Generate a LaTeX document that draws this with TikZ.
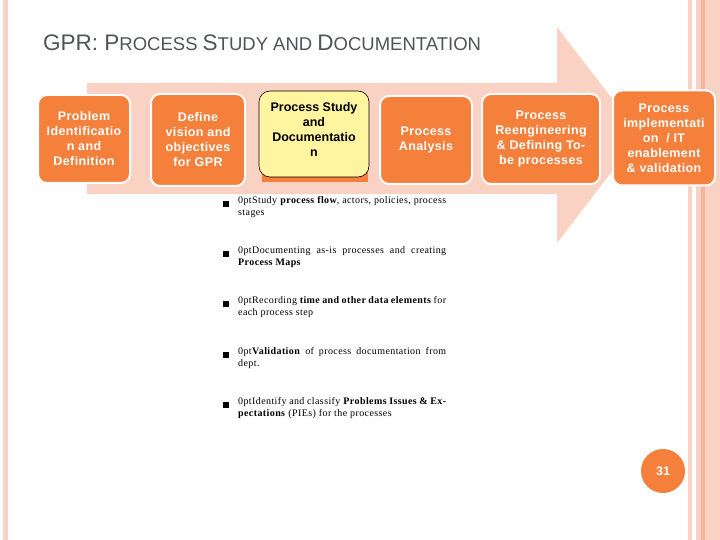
\documentclass[tikz,border=0pt]{standalone}
\usepackage{fontspec}
\setmainfont{Liberation Serif}[LetterSpace=4]
\newfontfamily\arial{Liberation Sans}
\newfontfamily\arialsp{Liberation Sans}[LetterSpace=3]
\definecolor{pk}{RGB}{250,210,196}
\definecolor{pkd}{RGB}{244,180,160}
\definecolor{org}{RGB}{244,128,60}
\definecolor{yel}{RGB}{255,244,160}
\definecolor{ttl}{RGB}{80,84,90}
\begin{document}
\begin{tikzpicture}[x=1pt,y=-1pt,
  box/.style={draw=white,line width=2pt,fill=org,rounded corners=9pt,text=white,font=\arialsp\bfseries\fontsize{12.5}{15}\selectfont,align=center,inner sep=1pt},
  bul/.style={anchor=north west,text width=208pt,align=justify,font=\hyphenpenalty=10000\fontsize{13.5}{19.5}\selectfont,inner sep=0pt},
  sq/.style={fill=black,minimum size=6pt,inner sep=0pt}]
\useasboundingbox (0,0) rectangle (720,540);
\fill[white] (0,0) rectangle (720,540);
% frame strips
\fill[pk] (3,0) rectangle (8,540);
\fill[pk] (688,0) rectangle (692,540);
\fill[pk] (696,0) rectangle (701,540);
\fill[pkd] (701,0) rectangle (705,540);
\fill[pk] (705,0) rectangle (720,540);
% big arrow
\fill[pk] (87,83) -- (557,83) -- (557,27) -- (640,135) -- (557,243) -- (557,194) -- (87,194) -- cycle;
% title
\node[anchor=base west,inner sep=0pt,text=ttl,font=\arial] (title) at (43,51)
 {\fontsize{22.5}{26}\selectfont GPR: P\fontsize{18.5}{20}\selectfont ROCESS \fontsize{22.5}{26}\selectfont S\fontsize{18.5}{20}\selectfont TUDY AND \fontsize{22.5}{26}\selectfont D\fontsize{18.5}{20}\selectfont OCUMENTATION};
% boxes
\node[box,minimum width=92pt,minimum height=88pt] (b1) at (84,139) {Problem\\Identificatio\\n and\\Definition};
\node[box,minimum width=94pt,minimum height=92pt] (b2) at (198,140) {Define\\vision and\\objectives\\for GPR};
\fill[org] (262,140) rectangle (368,182);
\node[draw=black,line width=0.6pt,fill=yel,rounded corners=11pt,minimum width=110pt,minimum height=86pt,font=\arial\bfseries\fontsize{12.5}{15}\selectfont,align=center,inner sep=1pt,text depth=10pt] (b3) at (314,134) {Process Study\\and\\Documentatio\\n};
\node[box,minimum width=92pt,minimum height=88pt] (b4) at (426,140) {Process\\Analysis};
\node[box,minimum width=118pt,minimum height=90pt] (b5) at (541,139) {Process\\Reengineering\\\& Defining To-\\be processes};
\node[box,minimum width=102pt,minimum height=95pt] (b6) at (664,138) {Process\\implementati\\on \ / IT\\enablement\\\& validation};
% bullets
\foreach \y/\n in {204/q1,254/q2,304/q3,355/q4,405/q5}
  \node[sq] (\n) at (226,\y) {};
\node[bul] (t1) at (238,196) {Study \textbf{process flow}, actors, policies, process stages};
\node[bul] (t2) at (238,246) {Documenting as-is processes and creating \textbf{Process Maps}};
\node[bul] (t3) at (238,296) {Recording \textbf{time and other data elements} for each process step};
\node[bul] (t4) at (238,347) {\textbf{Validation} of process documentation from dept.};
\node[bul] (t5) at (238,397) {Identify and classify \textbf{Problems Issues \& Expectations} (PIEs) for the processes};
% page number
\node[circle,fill=org,minimum size=44pt,inner sep=0pt,text=white,font=\arial\bfseries\fontsize{12.5}{14}\selectfont] (pg) at (663,471) {31};
\end{tikzpicture}
\end{document}
